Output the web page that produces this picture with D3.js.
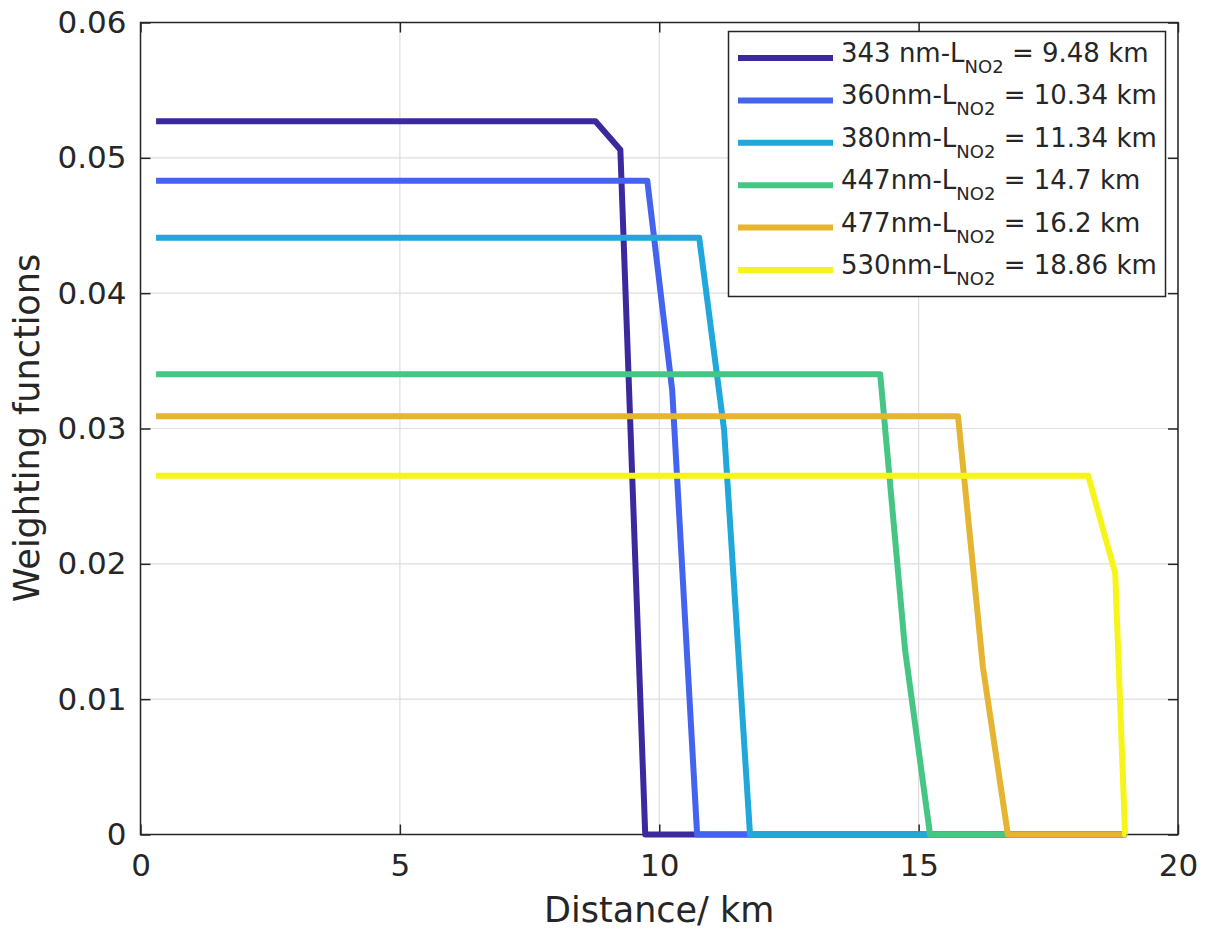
<!DOCTYPE html>
<html>
<head>
<meta charset="utf-8">
<script src="https://cdn.jsdelivr.net/npm/d3@7"></script>
<style>
  body { margin: 0; background: #fff; }
  text { font-family: "DejaVu Sans", sans-serif; fill: #262626; }
</style>
</head>
<body>
<div id="chart"></div>
<script>

// tick labels
var xTicks = [0, 5, 10, 15, 20];
var yTicks = [0, 0.01, 0.02, 0.03, 0.04, 0.05, 0.06];

// legend text
var legendWave = ["343 nm-L", "360nm-L", "380nm-L", "447nm-L", "477nm-L", "530nm-L"];
var legendLength = ["= 9.48 km", "= 10.34 km", "= 11.34 km", "= 14.7 km", "= 16.2 km", "= 18.86 km"];
var colors = ["#3a2a9e", "#4463ef", "#20a7db", "#46c684", "#e5b431", "#f7f419"];

// series (distance in km, weighting function)
var dist343 = [0.3, 8.77, 9.25, 9.73, 19.0];
var wf343 = [0.0527, 0.0527, 0.0506, 0, 0];
var dist360 = [0.3, 9.77, 10.25, 10.73, 19.0];
var wf360 = [0.0483, 0.0483, 0.0328, 0, 0];
var dist380 = [0.3, 10.77, 11.25, 11.75, 19.0];
var wf380 = [0.0441, 0.0441, 0.0299, 0, 0];
var dist447 = [0.3, 14.26, 14.74, 15.22, 19.0];
var wf447 = [0.034, 0.034, 0.0136, 0, 0];
var dist477 = [0.3, 15.76, 16.24, 16.72, 19.0];
var wf477 = [0.0309, 0.0309, 0.01235, 0, 0];
var dist530 = [0.3, 18.27, 18.79, 18.98, 19.0];
var wf530 = [0.0265, 0.0265, 0.0193, 0, 0];

var allDist = [dist343, dist360, dist380, dist447, dist477, dist530];
var allWf = [wf343, wf360, wf380, wf447, wf477, wf530];

var width = 1205, height = 931;
var plotLeft = 140.5, plotRight = 1178, plotTop = 22.5, plotBottom = 834.5;

var svg = d3.select("#chart").append("svg")
    .attr("width", width)
    .attr("height", height);

var x = d3.scaleLinear().domain([0, 20]).range([plotLeft, plotRight]);
var y = d3.scaleLinear().domain([0, 0.06]).range([plotBottom, plotTop]);

// grid
svg.append("g").selectAll("line")
    .data(xTicks).enter().append("line")
    .attr("x1", function (d) { return x(d); })
    .attr("x2", function (d) { return x(d); })
    .attr("y1", plotTop).attr("y2", plotBottom)
    .attr("stroke", "#dedede").attr("stroke-width", 1.2);
svg.append("g").selectAll("line")
    .data(yTicks).enter().append("line")
    .attr("y1", function (d) { return y(d); })
    .attr("y2", function (d) { return y(d); })
    .attr("x1", plotLeft).attr("x2", plotRight)
    .attr("stroke", "#dedede").attr("stroke-width", 1.2);

// axes (ticks inward, box all round)
var fmtY = function (d) { return d === 0 ? "0" : d3.format(".2f")(d); };
function styleAxis(g) {
    g.select(".domain").remove();
    g.selectAll(".tick line").attr("stroke", "#262626").attr("stroke-width", 1.5);
    g.selectAll(".tick text").style("font-size", "31px").style("font-family", "DejaVu Sans").attr("fill", "#262626");
}
svg.append("g").attr("transform", "translate(0," + plotBottom + ")")
    .call(d3.axisBottom(x).tickValues(xTicks).tickSizeInner(-10).tickSizeOuter(0).tickPadding(19))
    .call(styleAxis);
svg.append("g").attr("transform", "translate(" + plotLeft + ",0)")
    .call(d3.axisLeft(y).tickValues(yTicks).tickFormat(fmtY).tickSizeInner(-10).tickSizeOuter(0).tickPadding(14))
    .call(styleAxis);
svg.append("g").attr("transform", "translate(0," + plotTop + ")")
    .call(d3.axisTop(x).tickValues(xTicks).tickFormat("").tickSizeInner(-10).tickSizeOuter(0))
    .call(styleAxis);
svg.append("g").attr("transform", "translate(" + plotRight + ",0)")
    .call(d3.axisRight(y).tickValues(yTicks).tickFormat("").tickSizeInner(-10).tickSizeOuter(0))
    .call(styleAxis);

svg.append("rect")
    .attr("x", plotLeft).attr("y", plotTop)
    .attr("width", plotRight - plotLeft).attr("height", plotBottom - plotTop)
    .attr("fill", "none").attr("stroke", "#262626").attr("stroke-width", 1.5);

// lines
var line = d3.line()
    .x(function (d) { return x(d[0]); })
    .y(function (d) { return y(d[1]); });

allDist.forEach(function (ds, i) {
    var pts = ds.map(function (d, j) { return [d, allWf[i][j]]; });
    svg.append("path")
        .attr("d", line(pts))
        .attr("fill", "none")
        .attr("stroke", colors[i])
        .attr("stroke-width", 6)
        .attr("stroke-linejoin", "round");
});

// axis titles
svg.append("text")
    .attr("x", (plotLeft + plotRight) / 2).attr("y", 922)
    .attr("text-anchor", "middle")
    .style("font-size", "35px")
    .text("Distance/ km");
svg.append("text")
    .attr("transform", "translate(39,428) rotate(-90)")
    .attr("text-anchor", "middle")
    .style("font-size", "35px")
    .text("Weighting functions");

// legend
var leg = svg.append("g");
leg.append("rect")
    .attr("x", 728.5).attr("y", 31.5)
    .attr("width", 437).attr("height", 265)
    .attr("fill", "#fff").attr("stroke", "#262626").attr("stroke-width", 1.5);

legendWave.forEach(function (w, i) {
    var ly = 58 + i * 42.4;
    leg.append("line")
        .attr("x1", 738).attr("x2", 833)
        .attr("y1", ly).attr("y2", ly)
        .attr("stroke", colors[i]).attr("stroke-width", 6);
    var t = leg.append("text")
        .attr("x", 841).attr("y", ly + 4)
        .style("font-size", "26px");
    t.append("tspan").text(w);
    t.append("tspan").attr("dy", 11).style("font-size", "18px").text("NO2");
    t.append("tspan").attr("dy", -11).text(" " + legendLength[i]);
});

</script>
</body>
</html>
